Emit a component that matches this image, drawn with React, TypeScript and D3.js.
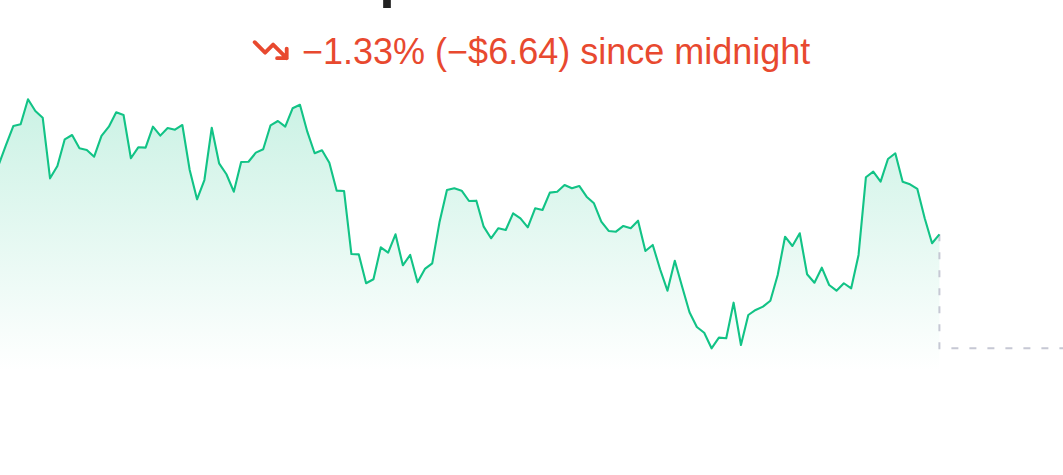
import * as d3 from 'd3';
import { useRef, useEffect } from 'react';

// Precio cada 10 minutos desde medianoche (lectura del gráfico)
const prices = [
  499.25, 501.16, 502.98, 503.15, 505.54, 504.42, 503.78, 497.97, 499.15, 501.71,
  502.12, 500.85, 500.69, 500.04, 502.03, 502.92, 504.3, 504.04, 499.89, 500.94,
  500.91, 502.92, 502.06, 502.79, 502.63, 503.08, 498.77, 495.96, 497.81, 502.82,
  499.41, 498.36, 496.69, 499.54, 499.56, 500.43, 500.75, 503.05, 503.46, 502.92,
  504.68, 505.02, 502.44, 500.37, 500.66, 499.47, 496.79, 496.76, 490.72, 490.69,
  487.92, 488.3, 491.36, 490.85, 492.61, 489.64, 490.63, 488.01, 489.29, 489.83,
  493.82, 496.85, 497.02, 496.79, 495.8, 495.83, 493.34, 492.23, 493.19, 493.02,
  494.62, 494.14, 493.28, 495.1, 494.94, 496.6, 496.69, 497.33, 497.02, 497.24,
  496.21, 495.58, 493.82, 492.93, 492.86, 493.41, 493.19, 493.91, 491.01, 491.59,
  489.26, 487.21, 490.08, 487.59, 485.15, 483.73, 483.18, 481.69, 482.71, 482.65,
  486.06, 482.01, 484.88, 485.36, 485.68, 486.25, 488.71, 492.38, 491.49, 492.71,
  488.78, 487.97, 489.41, 487.75, 487.21, 487.92, 487.44, 490.63, 498.07, 498.61,
  497.65, 499.82, 500.37, 497.65, 497.4, 496.95, 494.14, 491.75, 492.61,
];
// Minutos desde medianoche de cada precio
const minutes = prices.map((_, i) => i * 10);
const dayMinutes = 24 * 60;

const changeLabel = '−1.33% (−$6.64) since midnight';
const titleLabel = 'Share price';

export const PriceChart = () => {
  const svgRef = useRef<SVGSVGElement | null>(null);

  useEffect(() => {
    const width = 1063;
    const height = 475;

    const xScale = d3.scaleLinear().domain([0, dayMinutes]).range([-1.4, 1057]);
    const [lo, hi] = d3.extent(prices) as [number, number];
    const yScale = d3.scaleLinear().domain([lo, hi]).range([348.3, 99.3]);

    d3.select(svgRef.current).selectAll('*').remove();

    const svg = d3
      .select(svgRef.current)
      .attr('width', width)
      .attr('height', height)
      .attr('font-family', '"Liberation Sans", Arial, Helvetica, sans-serif');

    // Degradado del área
    const grad = svg
      .append('defs')
      .append('linearGradient')
      .attr('id', 'area-grad')
      .attr('gradientUnits', 'userSpaceOnUse')
      .attr('x1', 0)
      .attr('x2', 0)
      .attr('y1', yScale(hi))
      .attr('y2', 372);
    grad.append('stop').attr('offset', 0).attr('stop-color', '#12c386').attr('stop-opacity', 0.22);
    grad.append('stop').attr('offset', 1).attr('stop-color', '#12c386').attr('stop-opacity', 0);

    const data = prices.map((p, i) => ({ t: minutes[i], p }));

    const area = d3
      .area<{ t: number; p: number }>()
      .x((d) => xScale(d.t))
      .y0(372)
      .y1((d) => yScale(d.p));

    svg.append('path').datum(data).attr('d', area).attr('fill', 'url(#area-grad)');

    // Línea punteada hasta el final del día
    const last = data[data.length - 1];
    svg
      .append('path')
      .attr(
        'd',
        `M${xScale(last.t)},${yScale(last.p)}V${yScale(lo)}H${xScale(dayMinutes) + 10}`,
      )
      .attr('fill', 'none')
      .attr('stroke', '#c6c8d4')
      .attr('stroke-width', 2)
      .attr('stroke-dasharray', '7 11');

    const line = d3
      .line<{ t: number; p: number }>()
      .x((d) => xScale(d.t))
      .y((d) => yScale(d.p));

    svg
      .append('path')
      .datum(data)
      .attr('d', line)
      .attr('fill', 'none')
      .attr('stroke', '#12c386')
      .attr('stroke-width', 2.1)
      .attr('stroke-linejoin', 'round');

    // Título (recortado arriba, como en el original)
    svg
      .append('text')
      .attr('x', 208)
      .attr('y', -4.5)
      .attr('font-size', '56px')
      .attr('font-weight', 'bold')
      .attr('fill', '#222222')
      .text(titleLabel);

    // Icono de tendencia
    svg
      .append('path')
      .attr('transform', 'translate(251.5,31) scale(1.6)')
      .attr('d', 'M2 7L8.5 13.5L13.5 8.5L22 17M16 17H22V11')
      .attr('fill', 'none')
      .attr('stroke', '#e8492f')
      .attr('stroke-width', 2.4)
      .attr('stroke-linecap', 'round')
      .attr('stroke-linejoin', 'round');

    svg
      .append('text')
      .attr('x', 302)
      .attr('y', 64)
      .attr('font-size', '36px')
      .attr('fill', '#e8492f')
      .text(changeLabel);
  }, []);

  return <svg ref={svgRef} style={{ position: 'absolute', left: 0, top: 0, display: 'block' }} />;
};

export default function App() {
  return <PriceChart />;
}
